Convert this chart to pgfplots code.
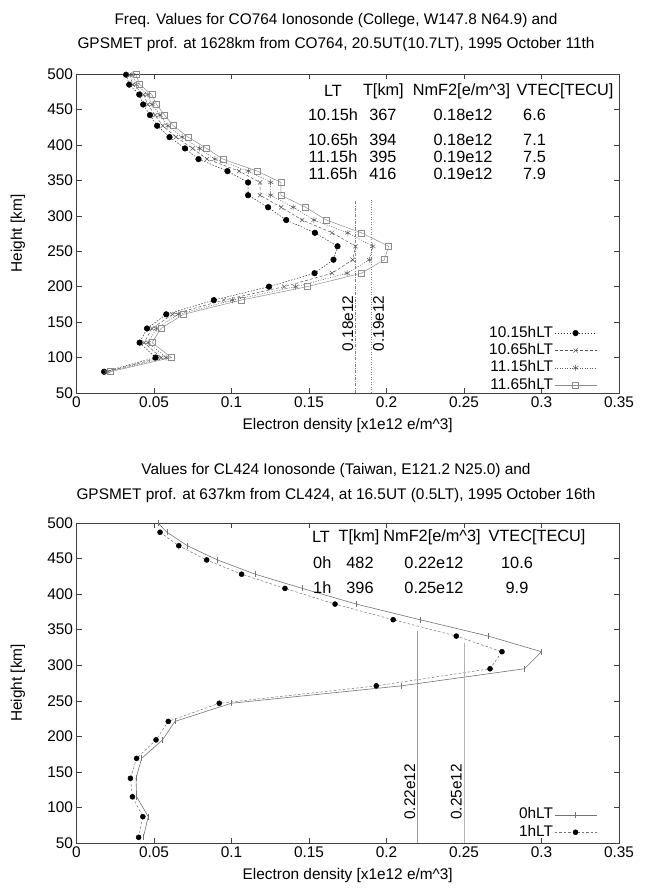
\documentclass[border=0pt]{standalone}
\usepackage{fontspec}
\setmainfont{Liberation Sans}
\usepackage{pgfplots}
\usepackage{pgfplotstable}
\pgfplotsset{compat=1.18}
\newcommand\f{\fontsize{15.4bp}{18bp}\selectfont}
\newcommand\ft{\fontsize{16.3bp}{19bp}\selectfont}

\pgfplotstableread{
h    a      b      c      d
499  0.032  0.0342 0.0363 0.0384
485  0.034  0.0364 0.0386 0.0408
471  0.0405 0.0433 0.046  0.0486
457  0.043  0.046  0.0488 0.0516
442  0.0474 0.0507 0.0538 0.0569
427  0.052  0.0556 0.059  0.0624
411  0.060  0.0642 0.0681 0.072
395  0.070  0.0749 0.0795 0.084
380  0.0787 0.0842 0.0893 0.0944
363  0.0974 0.1049 0.1109 0.1167
347  0.1107 0.1184 0.1253 0.1319
329  0.1107 0.1184 0.1253 0.1319
312  0.1236 0.1321 0.1398 0.1478
294  0.1353 0.1456 0.1532 0.1611
276  0.1538 0.1649 0.175  0.1838
257  0.1684 0.180  0.1911 0.2014
238  0.1658 0.1782 0.189  0.1986
219  0.1536 0.1649 0.1746 0.1838
200  0.1242 0.134  0.1414 0.1488
181  0.0886 0.095  0.1006 0.1062
161  0.0579 0.062  0.0657 0.069
141  0.0455 0.0487 0.0516 0.0545
121  0.0407 0.0436 0.0462 0.0487
100  0.051  0.0546 0.0579 0.0613
80   0.0178 0.019  0.0202 0.0217
}\toptab

\pgfplotstableread{
h     x
500   0.0525
487   0.0584
468   0.0715
448   0.091
428   0.1153
408   0.1457
386   0.1805
364   0.2216
341   0.2656
319   0.300
295   0.289
271   0.2095
246.5 0.0998
221   0.0635
195   0.0555
169   0.042
141   0.0384
115   0.0388
87    0.0463
58    0.0431
}\zeroh

\pgfplotstableread{
h     x
487   0.0539
468   0.066
448   0.084
428   0.1065
408   0.1345
386   0.1668
364   0.2043
341   0.245
319   0.2745
295   0.2668
271   0.1934
246.5 0.0921
221   0.0592
195   0.0513
169   0.0388
141   0.0348
115   0.0361
87    0.0428
58    0.0401
}\oneh

\pgfplotsset{
  legend image code/.code={\draw[mark repeat=2,mark phase=2,#1] plot coordinates {(0bp,0bp) (21bp,0bp) (42bp,0bp)};},
  gp/.style={
    scale only axis, width=542.5bp,
    xmin=0, xmax=0.35, ymin=50, ymax=500,
    xtick={0,0.05,0.1,0.15,0.2,0.25,0.3,0.35},
    ytick={50,100,150,200,250,300,350,400,450,500},
    scaled x ticks=false,
    xticklabel style={/pgf/number format/fixed, /pgf/number format/precision=2},
    /pgf/number format/assume math mode=true,
    tick align=inside, major tick length=5bp,
    axis line style={black!75}, tick style={black!75, line width=0.5bp},
    every tick label/.append style={font=\f},
    xlabel={Electron density [x1e12 e/m\textasciicircum 3]},
    ylabel={Height [km]},
    every axis x label/.style={at={(axis description cs:0.5,-0.103)}, anchor=center, font=\f},
    every axis y label/.style={at={(axis description cs:-0.108,0.5)}, anchor=center, rotate=90, font=\f},
    legend cell align=right, legend plot pos=right,
    legend style={draw=none, fill=none, font=\f, row sep=0pt,
      nodes={inner sep=1.2bp, text height=11.5bp, text depth=3.5bp}},
  }
}

\begin{document}
\begin{tikzpicture}
\path[use as bounding box] (0,0) rectangle (646bp,894bp);
\node[font=\f] at (336bp,873bp) {Freq. Values for CO764 Ionosonde (College, W147.8 N64.9) and};
\node[font=\f] at (336bp,849bp) {GPSMET prof. at 1628km from CO764, 20.5UT(10.7LT), 1995 October 11th};
\node[font=\f] at (336bp,423bp) {Values for CL424 Ionosonde (Taiwan, E121.2 N25.0) and};
\node[font=\f] at (336bp,398bp) {GPSMET prof. at 637km from CL424, at 16.5UT (0.5LT), 1995 October 16th};

\begin{axis}[gp, height=319bp, at={(76.5bp,501bp)}, anchor=south west,
  legend style={at={(axis description cs:0.965,0.222)}, anchor=north east}]
\addplot[black!80, line width=0.5bp, dash pattern=on 1.5bp off 1.5bp, mark=*, mark size=2.8bp, mark options={solid, fill=black, draw=black}] table[x=a, y=h] {\toptab};
\addlegendentry{10.15hLT}
\addplot[black!65, line width=0.5bp, dash pattern=on 3bp off 2bp, mark=x, mark size=3bp, mark options={solid}] table[x=b, y=h] {\toptab};
\addlegendentry{10.65hLT}
\addplot[black!65, line width=0.5bp, dash pattern=on 1bp off 1.5bp, mark=asterisk, mark size=3bp, mark options={solid}] table[x=c, y=h] {\toptab};
\addlegendentry{11.15hLT}
\addplot[black!45, line width=0.5bp, mark=square, mark size=3bp, mark options={solid}] table[x=d, y=h] {\toptab};
\addlegendentry{11.65hLT}
\addplot[black!50, line width=0.5bp, dash pattern=on 3bp off 1.5bp on 0.5bp off 1.5bp, forget plot] coordinates {(0.18,50) (0.18,322)};
\addplot[black!50, line width=0.5bp, dash pattern=on 1bp off 1.5bp, forget plot] coordinates {(0.19,50) (0.19,322)};
\node[rotate=90, anchor=south, font=\f, inner sep=2bp] at (axis cs:0.18,148) {0.18e12};
\node[rotate=90, anchor=north, font=\f, inner sep=2bp] at (axis cs:0.19,148) {0.19e12};
\node[font=\ft] at (axis cs:0.1655,476) {LT};
\node[font=\ft] at (axis cs:0.198,476) {T[km]};
\node[font=\ft] at (axis cs:0.2484,476) {NmF2[e/m\textasciicircum 3]};
\node[font=\ft] at (axis cs:0.3152,476) {VTEC[TECU]};
\node[font=\ft] at (axis cs:0.1655,442) {10.15h};
\node[font=\ft] at (axis cs:0.1977,442) {367};
\node[font=\ft] at (axis cs:0.2494,442) {0.18e12};
\node[font=\ft] at (axis cs:0.2955,442) {6.6};
\node[font=\ft] at (axis cs:0.1655,407) {10.65h};
\node[font=\ft] at (axis cs:0.1977,407) {394};
\node[font=\ft] at (axis cs:0.2494,407) {0.18e12};
\node[font=\ft] at (axis cs:0.2955,407) {7.1};
\node[font=\ft] at (axis cs:0.1655,383) {11.15h};
\node[font=\ft] at (axis cs:0.1977,383) {395};
\node[font=\ft] at (axis cs:0.2494,383) {0.19e12};
\node[font=\ft] at (axis cs:0.2955,383) {7.5};
\node[font=\ft] at (axis cs:0.1655,359) {11.65h};
\node[font=\ft] at (axis cs:0.1977,359) {416};
\node[font=\ft] at (axis cs:0.2494,359) {0.19e12};
\node[font=\ft] at (axis cs:0.2955,359) {7.9};
\end{axis}

\begin{axis}[gp, height=320bp, at={(76.5bp,51bp)}, anchor=south west,
  legend style={at={(axis description cs:0.965,0.122)}, anchor=north east}]
\addplot[black!55, line width=0.6bp, mark=|, mark size=3bp, mark options={solid}] table[x=x, y=h] {\zeroh};
\addlegendentry{0hLT}
\addplot[black!55, line width=0.5bp, dash pattern=on 2.5bp off 2bp, mark=*, mark size=2.5bp, mark options={solid, fill=black, draw=black}] table[x=x, y=h] {\oneh};
\addlegendentry{1hLT}
\addplot[black!40, line width=0.6bp, forget plot] coordinates {(0.22,50) (0.22,348)};
\addplot[black!30, line width=0.6bp, forget plot] coordinates {(0.25,50) (0.25,331)};
\node[rotate=90, anchor=south, font=\f, inner sep=2bp] at (axis cs:0.22,122) {0.22e12};
\node[rotate=90, anchor=south, font=\f, inner sep=2bp] at (axis cs:0.25,122) {0.25e12};
\node[font=\ft] at (axis cs:0.1577,480) {LT};
\node[font=\ft] at (axis cs:0.1823,480) {T[km]};
\node[font=\ft] at (axis cs:0.2294,480) {NmF2[e/m\textasciicircum 3]};
\node[font=\ft] at (axis cs:0.2971,480) {VTEC[TECU]};
\node[font=\ft, anchor=west, inner sep=0pt] at (axis cs:0.1526,444) {0h};
\node[font=\ft] at (axis cs:0.1829,444) {482};
\node[font=\ft] at (axis cs:0.2306,444) {0.22e12};
\node[font=\ft] at (axis cs:0.2842,444) {10.6};
\node[font=\ft, anchor=west, inner sep=0pt] at (axis cs:0.1526,409) {1h};
\node[font=\ft] at (axis cs:0.1829,409) {396};
\node[font=\ft] at (axis cs:0.2306,409) {0.25e12};
\node[font=\ft] at (axis cs:0.2842,409) {9.9};
\end{axis}
\end{tikzpicture}
\end{document}
